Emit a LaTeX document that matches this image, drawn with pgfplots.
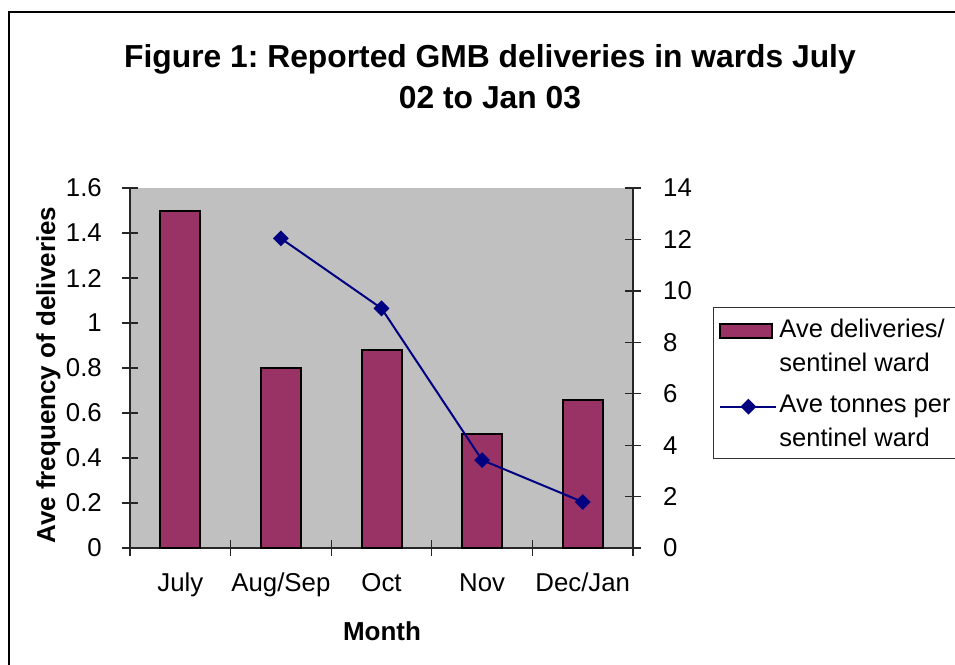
\documentclass[border=0pt]{standalone}
\usepackage{fontspec}
\setmainfont{Liberation Sans}
\usepackage{pgfplots}
\pgfplotsset{compat=1.18}
\frenchspacing
\definecolor{barcol}{HTML}{993366}
\definecolor{linecol}{HTML}{000080}
\definecolor{plotgray}{HTML}{C0C0C0}
\newcommand{\tickfont}{\fontsize{25.8}{30}\selectfont}
\newcommand{\legfont}{\fontsize{25.5}{34}\selectfont}
\pgfplotsset{
  barleg/.style={legend image code/.code={\draw[fill=barcol, draw=black, line width=2pt] (0pt,7.5pt) rectangle (52pt,21.5pt);}},
  lineleg/.style={legend image code/.code={\draw[##1, mark repeat=2, mark phase=2] plot coordinates {(0pt,14.5pt) (28pt,14.5pt) (56pt,14.5pt)};}},
}
\begin{document}
\begin{tikzpicture}
\useasboundingbox (0,0) rectangle (955pt,-664pt);
\draw[line width=2pt] (9pt,-12pt) rectangle (1100pt,-800pt);
\node[align=center, font=\fontsize{31.8}{41}\selectfont\bfseries] at (490pt,-77pt)
  {Figure 1: Reported GMB deliveries in wards July\\02 to Jan 03};
\begin{axis}[
  at={(130pt,-548pt)}, anchor=south west,
  scale only axis, width=503pt, height=360pt,
  xmin=-0.5, xmax=4.5, ymin=0, ymax=1.6,
  axis background/.style={fill=plotgray},
  axis x line*=bottom, axis y line*=left,
  axis line style={line width=1.3pt, black!85},
  every tick/.style={line width=1.3pt, black!85},
  xtick={0,1,2,3,4},
  xticklabels={July,Aug/Sep,Oct,Nov,Dec/Jan},
  major x tick style={draw=none},
  minor xtick={-0.5,0.5,1.5,2.5,3.5,4.5},
  ytick={0,0.2,0.4,0.6,0.8,1,1.2,1.4,1.6},
  yticklabels={0,0.2,0.4,0.6,0.8,1,1.2,1.4,1.6},
  tick align=center, major tick length=16pt, minor tick length=16pt,
  xticklabel style={font=\tickfont, anchor=north, inner sep=0pt, yshift=-28pt, text height=0.72em, text depth=0.21em},
  yticklabel style={font=\tickfont, anchor=east, inner sep=0pt, xshift=-20pt},
  xlabel={Month},
  xlabel style={font=\fontsize{26}{30}\selectfont\bfseries, at={(axis description cs:0.501,-0.231)}, anchor=center},
  ylabel={Ave frequency of deliveries},
  ylabel style={font=\fontsize{26}{30}\selectfont\bfseries, at={(axis description cs:-0.162,0.48)}, anchor=center},
  clip=false,
]
\addplot[ybar, bar width=40pt, fill=barcol, draw=black, line width=2pt]
  coordinates {(0,1.5) (1,0.8) (2,0.88) (3,0.507) (4,0.658)};
\end{axis}
\begin{axis}[
  at={(130pt,-548pt)}, anchor=south west,
  scale only axis, width=503pt, height=360pt,
  xmin=-0.5, xmax=4.5, ymin=0, ymax=14,
  axis x line=none, axis y line*=right,
  axis line style={line width=1.3pt, black!85},
  every tick/.style={line width=1.3pt, black!85},
  ytick={0,2,4,6,8,10,12,14},
  /pgf/number format/assume math mode=true,
  tick align=center, major tick length=16pt,
  yticklabel style={font=\tickfont, anchor=west, inner sep=0pt, xshift=22pt},
  legend style={at={(rel axis cs:1.159,0.669)}, anchor=north west,
    draw=black!80, line width=1pt, fill=white, font=\legfont,
    inner xsep=6pt, inner ysep=9pt, row sep=18pt,
    cells={align=left}},
  legend cell align=left,
  clip=false,
]
\addlegendimage{barleg}
\addlegendentry{Ave deliveries/\\sentinel ward}
\addplot[linecol, line width=2pt, mark=square*, mark size=4.6pt,
  mark options={rotate=45, solid, fill=linecol}, lineleg]
  coordinates {(1,12.04) (2,9.32) (3,3.42) (4,1.79)};
\addlegendentry{Ave tonnes per\hspace*{20pt}\\sentinel ward}
\end{axis}
\end{tikzpicture}
\end{document}
